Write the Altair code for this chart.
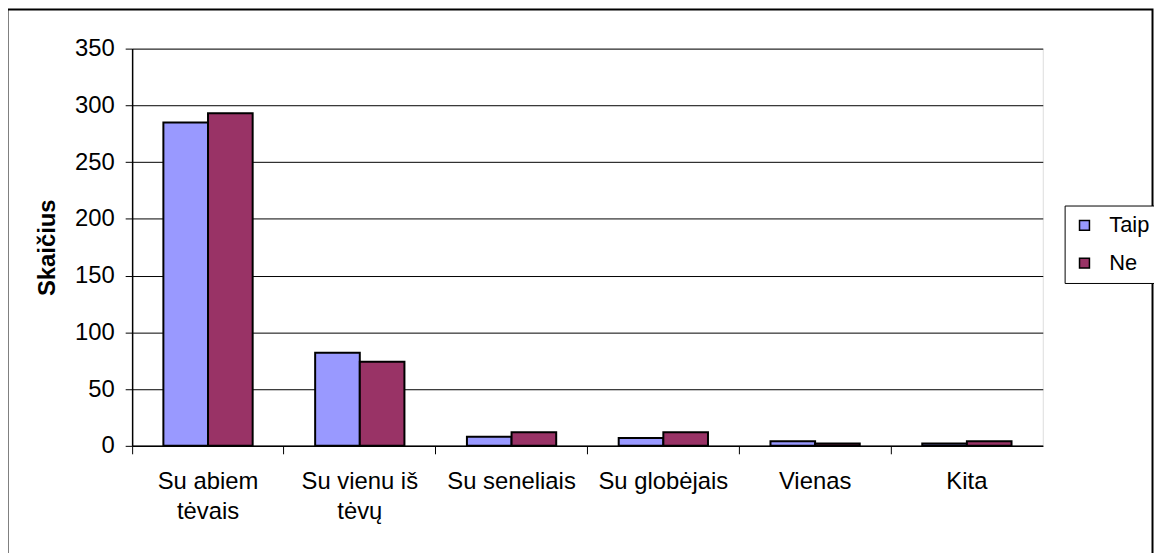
import altair as alt
import pandas as pd

categories = ["Su abiem\ntėvais", "Su vienu iš\ntėvų", "Su seneliais", "Su globėjais", "Vienas", "Kita"]
series = ["Taip", "Ne"]
taip = [285, 82, 8, 7, 4, 2]
ne = [293, 74, 12, 12, 2, 4]
y_ticks = [0, 50, 100, 150, 200, 250, 300, 350]

rows = []
for c, t, n in zip(categories, taip, ne):
    rows.append({"cat": c, "series": "Taip", "value": t})
    rows.append({"cat": c, "series": "Ne", "value": n})
df = pd.DataFrame(rows)

FONT = "Liberation Sans"

bars = alt.Chart(df).mark_bar(stroke="black", strokeWidth=2).encode(
    x=alt.X("cat:N", sort=categories, title=None,
            scale=alt.Scale(paddingInner=0, paddingOuter=0),
            axis=alt.Axis(labelAngle=0, bandPosition=0, tickSize=8, labelPadding=16,
                          labelExpr="split(datum.label, '\\n')", labelLineHeight=30,
                          labelFontSize=24, labelFont=FONT, labelColor="black",
                          domainColor="black", domainWidth=1.5, tickColor="black",
                          labelBaseline="top")),
    xOffset=alt.XOffset("series:N", sort=series,
                        scale=alt.Scale(paddingInner=0, paddingOuter=0.7)),
    y=alt.Y("value:Q", title="Skaičius",
            scale=alt.Scale(domain=[0, 350], nice=False),
            axis=alt.Axis(values=y_ticks, tickSize=7, labelPadding=11, labelFontSize=24,
                          labelFont=FONT, labelColor="black", grid=True, gridColor="black",
                          gridWidth=1, domainColor="black", domainWidth=1.5, tickColor="black",
                          titleFont=FONT, titleFontSize=24, titleFontWeight="bold",
                          titleColor="black", titleAngle=270, titleX=-85, titleY=200,
                          titleAlign="center", titleBaseline="middle")),
    color=alt.Color("series:N", sort=series,
                    scale=alt.Scale(domain=series, range=["#9999FF", "#993366"]),
                    legend=alt.Legend(title=None, orient="none", legendX=939, legendY=158,
                                      symbolType="square", symbolSize=100,
                                      symbolStrokeColor="black", symbolStrokeWidth=1.5,
                                      labelFont=FONT, labelFontSize=22, labelColor="black",
                                      labelOffset=14, rowPadding=16, padding=9,
                                      fillColor="white", strokeColor="black")),
)

border = alt.Chart(pd.DataFrame({"a": [0]})).mark_rect(
    fill="transparent", stroke="black", strokeWidth=2
).encode(
    x=alt.value(-125.5), x2=alt.value(1027.5), y=alt.value(-39.5), y2=alt.value(530)
)

chart = alt.layer(border, bars).properties(
    width=917, height=400,
    autosize=alt.AutoSizeParams(type="none"),
    padding={"left": 125, "top": 39, "right": 112, "bottom": 106},
).configure_view(fill="#C0C0C0", stroke="#808080", strokeWidth=1.5).configure(
    background="white"
)

chart.save("out.html", embed_options={"renderer": "svg", "actions": False})
